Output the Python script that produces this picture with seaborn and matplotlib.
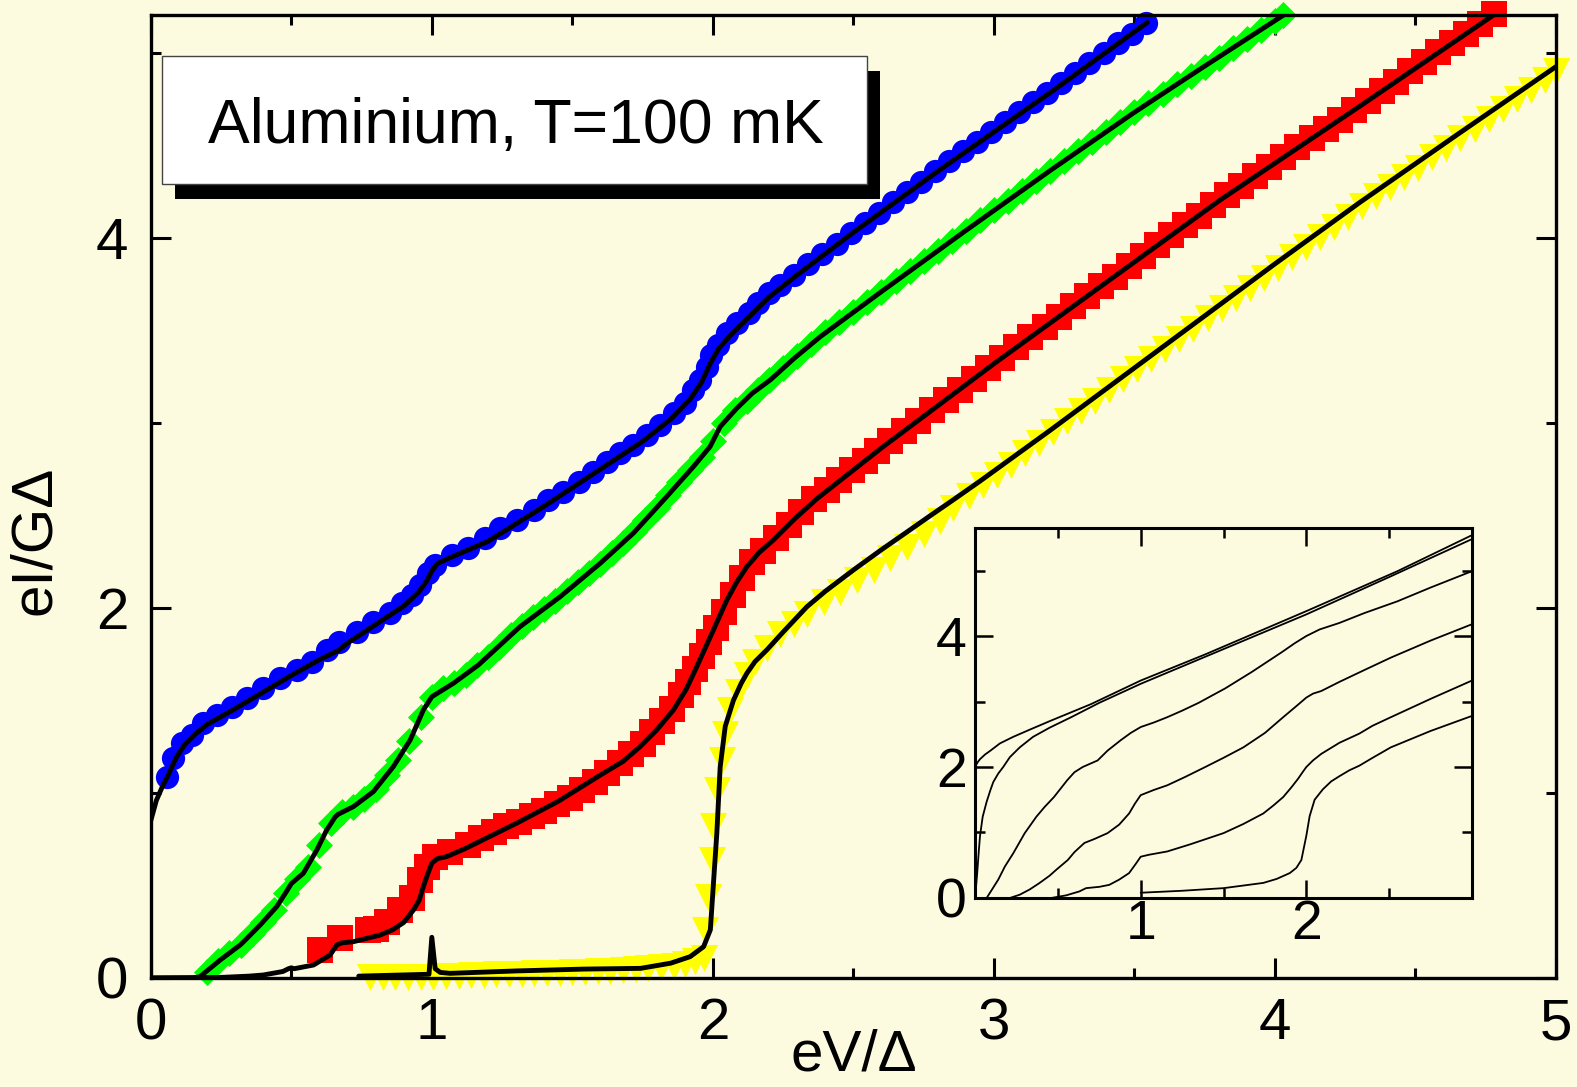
import matplotlib
matplotlib.use("Agg")
import matplotlib.pyplot as plt
from matplotlib.patches import Rectangle
from matplotlib.ticker import MultipleLocator
import seaborn as sns

# ---------------- measured current-voltage points (eV/Δ, eI/GΔ) ----------------
blue_v = [0.057, 0.08, 0.11, 0.146, 0.187, 0.235, 0.288, 0.342, 0.401, 0.46, 0.52, 0.573,
          0.626, 0.668, 0.733, 0.792, 0.852, 0.893, 0.929, 0.958, 0.988, 1.012, 1.071, 1.13,
          1.19, 1.243, 1.302, 1.362, 1.415, 1.468, 1.522, 1.575, 1.623, 1.67, 1.717, 1.765,
          1.812, 1.86, 1.901, 1.931, 1.955, 1.979, 1.995, 2.02, 2.05, 2.085, 2.127, 2.162,
          2.198, 2.24, 2.29, 2.34, 2.39, 2.44, 2.49, 2.54, 2.59, 2.64, 2.69, 2.74, 2.79, 2.84,
          2.89, 2.94, 2.99, 3.04, 3.09, 3.14, 3.19, 3.24, 3.29, 3.34, 3.39, 3.44, 3.49, 3.54]
blue_i = [1.088, 1.188, 1.269, 1.314, 1.377, 1.422, 1.466, 1.512, 1.566, 1.62, 1.665, 1.71,
          1.773, 1.818, 1.872, 1.926, 1.971, 2.025, 2.07, 2.124, 2.188, 2.232, 2.286, 2.323,
          2.377, 2.431, 2.476, 2.53, 2.584, 2.629, 2.683, 2.737, 2.791, 2.836, 2.881, 2.935,
          2.989, 3.052, 3.106, 3.178, 3.232, 3.304, 3.368, 3.422, 3.485, 3.54, 3.593, 3.647,
          3.701, 3.746, 3.80, 3.857, 3.913, 3.969, 4.025, 4.081, 4.137, 4.193, 4.249, 4.305,
          4.361, 4.415, 4.468, 4.521, 4.574, 4.627, 4.68, 4.733, 4.786, 4.839, 4.892, 4.945,
          4.998, 5.051, 5.104, 5.16]

green_v = [0.20, 0.24, 0.28, 0.32, 0.36, 0.40, 0.44, 0.48, 0.52, 0.56, 0.60, 0.64, 0.68,
           0.72, 0.76, 0.80, 0.84, 0.88, 0.92, 0.96, 1.00, 1.04, 1.08, 1.12, 1.16, 1.20, 1.24,
           1.28, 1.32, 1.36, 1.40, 1.44, 1.48, 1.52, 1.56, 1.60, 1.64, 1.68, 1.72, 1.76, 1.80,
           1.84, 1.88, 1.92, 1.96, 2.00, 2.04, 2.08, 2.12, 2.16, 2.20, 2.25, 2.30, 2.35, 2.40,
           2.45, 2.50, 2.55, 2.60, 2.65, 2.70, 2.75, 2.80, 2.85, 2.90, 2.95, 3.00, 3.05, 3.10,
           3.15, 3.20, 3.25, 3.30, 3.35, 3.40, 3.45, 3.50, 3.55, 3.60, 3.65, 3.70, 3.75, 3.80,
           3.85, 3.90, 3.95, 4.00, 4.03]
green_i = [0.03, 0.09, 0.135, 0.18, 0.24, 0.305, 0.37, 0.46, 0.535, 0.60, 0.72, 0.84, 0.895,
           0.925, 0.97, 1.02, 1.095, 1.18, 1.28, 1.41, 1.52, 1.565, 1.595, 1.64, 1.69, 1.735,
           1.79, 1.855, 1.905, 1.95, 1.995, 2.04, 2.09, 2.14, 2.19, 2.24, 2.295, 2.35, 2.41,
           2.475, 2.54, 2.61, 2.68, 2.745, 2.815, 2.90, 3.00, 3.07, 3.12, 3.18, 3.23, 3.295,
           3.36, 3.425, 3.49, 3.545, 3.60, 3.655, 3.71, 3.765, 3.82, 3.875, 3.93, 3.985, 4.04,
           4.095, 4.15, 4.20, 4.255, 4.31, 4.36, 4.415, 4.47, 4.52, 4.575, 4.625, 4.68, 4.73,
           4.78, 4.83, 4.875, 4.925, 4.975, 5.025, 5.075, 5.125, 5.175, 5.205]

red_v = [0.603, 0.674, 0.774, 0.80, 0.84, 0.887, 0.929, 0.958, 0.982, 1.012, 1.065, 1.13,
         1.175, 1.22, 1.265, 1.31, 1.355, 1.40, 1.445, 1.49, 1.535, 1.58, 1.625, 1.67, 1.71,
         1.75, 1.785, 1.82, 1.855, 1.885, 1.91, 1.935, 1.96, 1.985, 2.01, 2.04, 2.07, 2.105,
         2.14, 2.18, 2.225, 2.27, 2.315, 2.36, 2.405, 2.45, 2.495, 2.54, 2.585, 2.63, 2.68,
         2.73, 2.78, 2.83, 2.88, 2.93, 2.98, 3.03, 3.08, 3.13, 3.18, 3.23, 3.28, 3.33, 3.38,
         3.43, 3.48, 3.53, 3.58, 3.63, 3.68, 3.73, 3.78, 3.83, 3.88, 3.93, 3.98, 4.03, 4.08,
         4.13, 4.18, 4.23, 4.28, 4.33, 4.38, 4.43, 4.48, 4.53, 4.58, 4.63, 4.68, 4.73, 4.78]
red_i = [0.151, 0.215, 0.259, 0.265, 0.304, 0.368, 0.431, 0.53, 0.602, 0.656, 0.683, 0.72,
         0.755, 0.79, 0.82, 0.845, 0.875, 0.905, 0.94, 0.975, 1.015, 1.06, 1.11, 1.16, 1.21,
         1.265, 1.33, 1.39, 1.455, 1.53, 1.60, 1.67, 1.74, 1.815, 1.89, 1.98, 2.07, 2.16,
         2.25, 2.31, 2.38, 2.45, 2.52, 2.59, 2.64, 2.69, 2.745, 2.795, 2.85, 2.90, 2.955,
         3.01, 3.07, 3.125, 3.18, 3.24, 3.295, 3.35, 3.41, 3.465, 3.52, 3.575, 3.63, 3.685,
         3.74, 3.79, 3.85, 3.905, 3.96, 4.015, 4.07, 4.12, 4.18, 4.23, 4.28, 4.335, 4.385,
         4.435, 4.49, 4.54, 4.59, 4.64, 4.69, 4.74, 4.795, 4.845, 4.90, 4.95, 5.005, 5.055,
         5.105, 5.155, 5.21]

yellow_v = [0.78, 0.825, 0.87, 0.915, 0.96, 1.005, 1.05, 1.095, 1.14, 1.185, 1.23, 1.275,
            1.32, 1.365, 1.41, 1.455, 1.50, 1.545, 1.59, 1.635, 1.68, 1.725, 1.77, 1.815,
            1.86, 1.90, 1.935, 1.967, 1.972, 1.984, 1.996, 2.002, 2.014, 2.032, 2.044, 2.062,
            2.091, 2.121, 2.15, 2.192, 2.24, 2.287, 2.335, 2.394, 2.453, 2.512, 2.572, 2.631,
            2.69, 2.75, 2.809, 2.856, 2.91, 2.96, 3.01, 3.06, 3.11, 3.16, 3.21, 3.26, 3.31,
            3.36, 3.41, 3.46, 3.51, 3.56, 3.61, 3.66, 3.71, 3.76, 3.81, 3.86, 3.91, 3.96, 4.01,
            4.06, 4.11, 4.16, 4.21, 4.26, 4.31, 4.36, 4.41, 4.46, 4.51, 4.56, 4.61, 4.66, 4.71,
            4.76, 4.81, 4.86, 4.91, 4.96, 5.0]
yellow_i = [0.005, 0.005, 0.005, 0.005, 0.005, 0.006, 0.01, 0.012, 0.015, 0.017, 0.019, 0.021,
            0.023, 0.025, 0.027, 0.029, 0.031, 0.034, 0.037, 0.04, 0.043, 0.047, 0.052, 0.058,
            0.066, 0.078, 0.092, 0.11, 0.26, 0.44, 0.64, 0.82, 1.016, 1.178, 1.32, 1.449,
            1.545, 1.635, 1.71, 1.785, 1.86, 1.915, 1.97, 2.03, 2.085, 2.15, 2.205, 2.27,
            2.33, 2.40, 2.47, 2.54, 2.605, 2.665, 2.72, 2.775, 2.835, 2.89, 2.95, 3.01, 3.065,
            3.12, 3.18, 3.235, 3.29, 3.345, 3.40, 3.455, 3.51, 3.565, 3.62, 3.675, 3.73, 3.785,
            3.84, 3.895, 3.95, 4.005, 4.06, 4.115, 4.17, 4.225, 4.275, 4.33, 4.38, 4.435, 4.485,
            4.54, 4.59, 4.645, 4.695, 4.75, 4.80, 4.855, 4.90]

# ---------------- theoretical curves ----------------
blue_fit_v = [0.0, 0.02, 0.04, 0.06, 0.09, 0.12, 0.16, 0.2, 0.3, 0.4, 0.5, 0.6, 0.667, 0.7,
              0.8, 0.9, 0.95, 0.98, 1.0, 1.02, 1.07, 1.2, 1.4, 1.6, 1.75, 1.85, 1.92, 1.96,
              1.99, 2.02, 2.06, 2.12, 2.2, 2.3, 2.5, 2.8, 3.2, 3.546]
blue_fit_i = [0.85, 0.96, 1.03, 1.09, 1.19, 1.26, 1.32, 1.37, 1.455, 1.545, 1.635, 1.72, 1.77,
              1.81, 1.91, 2.01, 2.08, 2.14, 2.2, 2.24, 2.275, 2.36, 2.55, 2.75, 2.90, 3.02,
              3.13, 3.22, 3.32, 3.40, 3.47, 3.56, 3.68, 3.80, 4.03, 4.36, 4.785, 5.165]

green_fit_v = [0.0, 0.15, 0.175, 0.247, 0.318, 0.333, 0.389, 0.448, 0.484, 0.5, 0.543, 0.591,
               0.626, 0.656, 0.667, 0.721, 0.792, 0.863, 0.923, 0.97, 1.0, 1.077, 1.166, 1.314,
               1.457, 1.599, 1.717, 1.836, 1.931, 1.99, 2.026, 2.085, 2.14, 2.204, 2.29, 2.382,
               2.6, 2.9, 3.2, 3.5, 3.734, 4.031]
green_fit_i = [0.0, 0.0, 0.007, 0.097, 0.178, 0.20, 0.286, 0.385, 0.47, 0.51, 0.566, 0.692,
               0.80, 0.87, 0.885, 0.926, 1.007, 1.142, 1.286, 1.449, 1.52, 1.593, 1.692, 1.899,
               2.061, 2.241, 2.404, 2.602, 2.764, 2.872, 2.98, 3.079, 3.16, 3.232, 3.35, 3.466,
               3.71, 4.04, 4.364, 4.679, 4.913, 5.205]

red_fit_v = [0.0, 0.25, 0.35, 0.40, 0.47, 0.49, 0.50, 0.51, 0.579, 0.638, 0.662, 0.68, 0.721,
             0.816, 0.86, 0.9, 0.935, 0.955, 0.97, 0.985, 1.0, 1.02, 1.053, 1.12, 1.2, 1.3,
             1.45, 1.6, 1.68, 1.741, 1.8, 1.86, 1.905, 1.943, 2.002, 2.05, 2.085, 2.121, 2.165,
             2.216, 2.29, 2.37, 2.6, 3.0, 3.4, 3.805, 4.3, 4.778]
red_fit_i = [0.0, 0.003, 0.01, 0.016, 0.035, 0.05, 0.055, 0.05, 0.07, 0.124, 0.178, 0.19,
             0.196, 0.232, 0.26, 0.30, 0.368, 0.42, 0.494, 0.56, 0.62, 0.645, 0.656, 0.70,
             0.76, 0.835, 0.955, 1.097, 1.17, 1.25, 1.34, 1.449, 1.56, 1.683, 1.881, 2.043,
             2.14, 2.223, 2.30, 2.368, 2.48, 2.59, 2.865, 3.32, 3.76, 4.205, 4.71, 5.205]

yellow_fit_v = [0.74, 0.99, 1.0, 1.012, 1.03, 1.065, 1.3, 1.54, 1.743, 1.85, 1.919, 1.967,
                1.991, 2.002, 2.014, 2.026, 2.044, 2.073, 2.10, 2.121, 2.15, 2.192, 2.25,
                2.335, 2.4, 2.5, 2.6, 2.69, 2.77, 2.856, 2.95, 3.2, 3.6, 4.0, 4.3, 4.65, 5.0]
yellow_fit_i = [0.01, 0.02, 0.22, 0.05, 0.03, 0.025, 0.038, 0.048, 0.052, 0.08, 0.115, 0.169,
                0.26, 0.51, 0.78, 1.14, 1.36, 1.50, 1.59, 1.647, 1.71, 1.773, 1.87, 2.007,
                2.09, 2.205, 2.315, 2.41, 2.495, 2.585, 2.685, 2.96, 3.41, 3.86, 4.19, 4.56,
                4.926]

# ---------------- inset: family of computed curves ----------------
inset_a_v = [0.0, 0.015, 0.03, 0.06, 0.093, 0.15, 0.23, 0.33, 0.46, 0.70, 1.0, 1.39, 2.0,
             2.55, 3.0]
inset_a_i = [2.0, 2.07, 2.12, 2.19, 2.25, 2.36, 2.46, 2.57, 2.71, 2.96, 3.32, 3.72, 4.38,
             4.99, 5.54]
inset_b_v = [0.0, 0.012, 0.023, 0.03, 0.046, 0.07, 0.093, 0.11, 0.14, 0.17, 0.21, 0.27,
             0.35, 0.45, 0.58, 0.75, 1.0, 1.5, 2.0, 2.5, 3.0]
inset_b_i = [0.0, 0.35, 0.73, 0.95, 1.24, 1.47, 1.65, 1.77, 1.90, 2.0, 2.15, 2.3, 2.46, 2.6,
             2.76, 2.98, 3.27, 3.80, 4.33, 4.90, 5.48]
inset_c_v = [0.07, 0.10, 0.14, 0.18, 0.23, 0.30, 0.37, 0.42, 0.476, 0.557, 0.60, 0.65, 0.74,
             0.80, 0.88, 0.94, 1.0, 1.08, 1.16, 1.25, 1.35, 1.51, 1.67, 1.85, 1.93, 2.0, 2.08,
             2.2, 2.35, 2.55, 2.75, 3.0]
inset_c_i = [0.0, 0.12, 0.28, 0.48, 0.68, 0.99, 1.24, 1.39, 1.54, 1.80, 1.92, 2.0, 2.10, 2.25,
             2.41, 2.52, 2.61, 2.68, 2.76, 2.86, 2.98, 3.2, 3.45, 3.75, 3.89, 4.0, 4.1, 4.2,
             4.35, 4.53, 4.74, 4.99]
inset_d_v = [0.21, 0.27, 0.33, 0.39, 0.45, 0.49, 0.56, 0.60, 0.66, 0.72, 0.80, 0.87, 0.93,
             0.965, 1.0, 1.08, 1.16, 1.27, 1.39, 1.5, 1.62, 1.75, 1.86, 1.94, 2.0, 2.04, 2.09,
             2.2, 2.35, 2.51, 2.75, 3.0]
inset_d_i = [0.0, 0.05, 0.13, 0.23, 0.34, 0.43, 0.58, 0.70, 0.84, 0.90, 0.99, 1.12, 1.29,
             1.44, 1.57, 1.65, 1.72, 1.85, 2.0, 2.14, 2.30, 2.52, 2.76, 2.93, 3.06, 3.12, 3.16,
             3.3, 3.48, 3.67, 3.93, 4.18]
inset_e_v = [0.46, 0.55, 0.63, 0.67, 0.75, 0.81, 0.87, 0.93, 0.97, 1.0, 1.05, 1.16, 1.3,
             1.5, 1.62, 1.74, 1.8, 1.86, 1.91, 1.95, 1.98, 2.0, 2.04, 2.09, 2.2, 2.32, 2.4,
             2.51, 2.75, 3.0]
inset_e_i = [0.0, 0.04, 0.10, 0.15, 0.17, 0.20, 0.28, 0.38, 0.52, 0.63, 0.66, 0.71, 0.82,
             0.99, 1.13, 1.29, 1.41, 1.54, 1.69, 1.82, 1.93, 2.0, 2.1, 2.20, 2.37, 2.51, 2.63,
             2.76, 3.04, 3.32]
inset_f_v = [1.0, 1.25, 1.5, 1.74, 1.82, 1.9, 1.94, 1.97, 2.0, 2.02, 2.05, 2.1, 2.15, 2.2,
             2.26, 2.32, 2.4, 2.51, 2.75, 3.0]
inset_f_i = [0.08, 0.11, 0.15, 0.23, 0.29, 0.38, 0.46, 0.58, 0.95, 1.25, 1.5, 1.66, 1.78,
             1.86, 1.95, 2.02, 2.14, 2.30, 2.55, 2.78]

x_ticks = [0, 1, 2, 3, 4, 5]
y_ticks = [0, 2, 4]
inset_x_ticks = [0, 1, 2, 3]
inset_x_labels = ["", "1", "2", ""]
inset_y_ticks = [0, 2, 4]

BG = "#FCFBE0"
sns.set_theme(style="ticks", rc={
    "axes.facecolor": BG, "figure.facecolor": BG, "savefig.facecolor": BG,
    "axes.edgecolor": "black", "axes.linewidth": 2.4,
    "xtick.color": "black", "ytick.color": "black", "text.color": "black",
    "axes.labelcolor": "black",
})
plt.rcParams["font.family"] = ["Liberation Sans", "DejaVu Sans"]

fig = plt.figure(figsize=(15.77, 10.87), dpi=100)
ax = fig.add_axes([0.0956, 0.1003, 0.8911, 0.8859])

series = [
    (blue_v, blue_i, blue_fit_v, blue_fit_i, "#0000FF", "o", 280),
    (green_v, green_i, green_fit_v, green_fit_i, "#00FF00", "D", 190),
    (red_v, red_i, red_fit_v, red_fit_i, "#FF0000", "s", 330),
    (yellow_v, yellow_i, yellow_fit_v, yellow_fit_i, "#FFFF00", "v", 380),
]
for dv, di, fv, fi, col, mk, sz in series:
    sns.scatterplot(x=dv, y=di, ax=ax, color=col, marker=mk, s=sz, linewidth=0,
                    clip_on=False, zorder=2, legend=False)
for dv, di, fv, fi, col, mk, sz in series:
    sns.lineplot(x=fv, y=fi, ax=ax, color="black", linewidth=3.5, sort=False,
                 estimator=None, zorder=3, legend=False)

ax.set_xlim(0, 5)
ax.set_ylim(0, 5.205)
ax.set_xticks(x_ticks)
ax.set_yticks(y_ticks)
ax.xaxis.set_minor_locator(MultipleLocator(0.5))
ax.yaxis.set_minor_locator(MultipleLocator(1))
ax.tick_params(which="both", direction="in", top=True, right=True, width=2.2)
ax.tick_params(which="major", length=14.5, labelsize=42)
ax.tick_params(which="minor", length=7.2)
ax.tick_params(axis="x", pad=14)
ax.tick_params(axis="y", pad=16)
for sp in ax.spines.values():
    sp.set_visible(True)
    sp.set_linewidth(2.4)

ax.set_xlabel("eV/Δ", fontsize=42)
ax.xaxis.set_label_coords(0.5, -0.0965)
ax.xaxis.label.set_va("baseline")
ax.set_ylabel("eI/GΔ", fontsize=42)
ax.yaxis.set_label_coords(-0.0823, 0.4548)
ax.yaxis.label.set_va("center")

# title box with drop shadow
W, H = 1577.0, 1087.0
bx0, by0, bx1, by1 = 162, 56, 867, 184
fig.add_artist(Rectangle(((bx0 + 13) / W, (H - by1 - 15) / H), (bx1 - bx0) / W,
                         (by1 - by0) / H, transform=fig.transFigure,
                         facecolor="black", edgecolor="none", zorder=5))
fig.add_artist(Rectangle((bx0 / W, (H - by1) / H), (bx1 - bx0) / W, (by1 - by0) / H,
                         transform=fig.transFigure, facecolor="white",
                         edgecolor="#444444", linewidth=1.0, zorder=6))
fig.text(515.5 / W, (H - 143) / H, "Aluminium, T=100 mK", ha="center", va="baseline",
         fontsize=45, zorder=7)

# inset
axi = fig.add_axes([0.6183, 0.1739, 0.3151, 0.3404])
axi.set_facecolor(BG)
for iv, ii in [(inset_a_v, inset_a_i), (inset_b_v, inset_b_i), (inset_c_v, inset_c_i),
               (inset_d_v, inset_d_i), (inset_e_v, inset_e_i), (inset_f_v, inset_f_i)]:
    sns.lineplot(x=iv, y=ii, ax=axi, color="black", linewidth=1.3, sort=False,
                 estimator=None, legend=False)
axi.set_xlim(0, 3)
axi.set_ylim(0, 5.65)
axi.set_xticks(inset_x_ticks, inset_x_labels)
axi.set_yticks(inset_y_ticks)
axi.xaxis.set_minor_locator(MultipleLocator(0.5))
axi.yaxis.set_minor_locator(MultipleLocator(1))
axi.tick_params(which="both", direction="in", top=True, right=True, width=1.8)
axi.tick_params(which="major", length=13, labelsize=40)
axi.tick_params(which="minor", length=7)
axi.tick_params(axis="x", pad=1)
axi.tick_params(axis="y", pad=6)
for sp in axi.spines.values():
    sp.set_visible(True)
    sp.set_linewidth(2.2)
axi.set_xlabel("")
axi.set_ylabel("")

fig.savefig("out.png", dpi=100)
